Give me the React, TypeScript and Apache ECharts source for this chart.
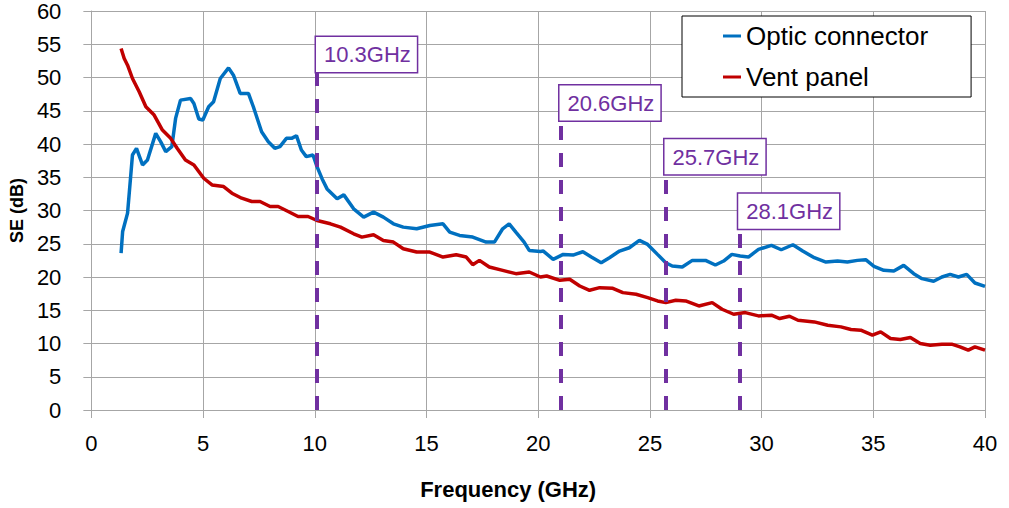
import React, { useEffect, useRef } from "react";
import * as echarts from "echarts";

const xTicks = { min: 0, max: 40, interval: 5 };
const yTicks = { min: 0, max: 60, interval: 5 };

const seriesNames = ["Optic connector", "Vent panel"];
const seriesColors = ["#0070C0", "#C00000"];

// [frequency GHz, SE dB]
const opticConnector: number[][] = [
  [1.33, 23.6], [1.4, 26.85], [1.62, 29.6], [1.84, 38.35], [2.02, 39.35], [2.29, 36.85], [2.51, 37.6],
  [2.88, 41.6], [3.1, 40.35], [3.33, 38.85], [3.6, 39.6], [3.77, 43.85], [3.99, 46.6], [4.44, 46.85],
  [4.59, 46.1], [4.81, 43.75], [4.99, 43.6], [5.25, 45.6], [5.47, 46.35], [5.77, 49.85], [6.14, 51.45],
  [6.36, 50.35], [6.66, 47.6], [7.03, 47.6], [7.25, 45.6], [7.62, 41.85], [7.92, 40.35], [8.21, 39.35],
  [8.44, 39.6], [8.73, 40.85], [8.96, 40.85], [9.18, 41.25], [9.4, 39.1], [9.62, 38.1], [9.92, 38.35],
  [10.1, 36.6], [10.33, 34.75], [10.55, 33.25], [11.0, 31.75], [11.3, 32.35], [11.74, 30.25], [12.19, 29],
  [12.63, 29.75], [13.07, 29], [13.52, 28], [13.96, 27.5], [14.56, 27.25], [15.15, 27.75], [15.74, 28],
  [16.04, 26.75], [16.48, 26.25], [17.07, 26], [17.67, 25.25], [18.04, 25.25], [18.41, 27.25], [18.7, 28],
  [19.0, 26.75], [19.37, 25.25], [19.6, 24], [20.1, 23.85], [20.23, 23.9], [20.67, 22.65], [21.12, 23.4],
  [21.56, 23.3], [22.0, 23.8], [22.38, 23], [22.82, 22.15], [23.19, 22.9], [23.64, 23.9], [24.08, 24.4],
  [24.53, 25.5], [24.9, 24.9], [25.34, 23.4], [25.71, 22.15], [26.0, 21.65], [26.45, 21.5], [26.9, 22.5],
  [27.49, 22.5], [27.93, 21.8], [28.3, 22.4], [28.67, 23.4], [29.04, 23.15], [29.41, 23], [29.86, 24.15],
  [30.44, 24.75], [30.88, 24.1], [31.4, 24.85], [31.84, 23.9], [32.36, 22.9], [32.88, 22.25], [33.4, 22.4],
  [33.84, 22.25], [34.29, 22.5], [34.66, 22.6], [35.03, 21.6], [35.47, 21], [35.92, 20.9], [36.36, 21.75],
  [36.81, 20.5], [37.18, 19.75], [37.7, 19.35], [38.07, 20], [38.44, 20.4], [38.81, 20], [39.18, 20.4],
  [39.55, 19.1], [40, 18.6],
];

const ventPanel: number[][] = [
  [1.33, 54.35], [1.47, 52.85], [1.62, 51.85], [1.84, 49.85], [2.14, 47.85], [2.44, 45.6], [2.81, 44.35],
  [3.18, 42.1], [3.55, 40.85], [3.84, 39.35], [4.21, 37.6], [4.59, 36.85], [5.03, 34.85], [5.4, 33.85],
  [5.92, 33.6], [6.29, 32.6], [6.73, 31.85], [7.18, 31.35], [7.55, 31.35], [8.0, 30.6], [8.36, 30.6],
  [8.81, 29.85], [9.25, 29.1], [9.7, 29.1], [10.1, 28.5], [10.7, 28], [11.15, 27.5], [11.74, 26.5],
  [12.11, 26], [12.63, 26.35], [13.07, 25.5], [13.52, 25.25], [13.96, 24.25], [14.56, 23.75], [15.15, 23.75],
  [15.74, 23], [16.33, 23.35], [16.78, 23], [17.07, 21.85], [17.37, 22.5], [17.81, 21.5], [18.41, 21],
  [19.0, 20.5], [19.6, 20.75], [20.1, 20], [20.38, 20.15], [20.97, 19.5], [21.41, 19.65], [21.86, 18.65],
  [22.3, 18], [22.75, 18.4], [23.34, 18.3], [23.79, 17.65], [24.38, 17.4], [24.9, 16.9], [25.34, 16.4],
  [25.71, 16.15], [26.16, 16.5], [26.6, 16.4], [27.19, 15.65], [27.79, 16.15], [28.23, 15.15], [28.75, 14.4],
  [29.27, 14.65], [29.86, 14.15], [30.44, 14.25], [30.81, 13.75], [31.25, 14.1], [31.63, 13.5], [32.36, 13.25],
  [32.96, 12.75], [33.55, 12.5], [34.0, 12.1], [34.44, 12], [34.96, 11.25], [35.33, 11.75], [35.77, 10.75],
  [36.21, 10.6], [36.66, 10.9], [37.1, 10], [37.55, 9.75], [38.07, 9.9], [38.51, 9.9], [38.88, 9.5],
  [39.25, 9], [39.55, 9.5], [40, 9],
];

const markerFreqs = [10.1, 21.0, 25.7, 29.0];
const markerTops = [56.1, 48.8, 40.7, 32.5];
const markerLabels = ["10.3GHz", "20.6GHz", "25.7GHz", "28.1GHz"];
const markerColor = "#7030A0";

const FONT = "'Liberation Sans', Arial, sans-serif";

export default function App() {
  const ref = useRef<HTMLDivElement>(null);

  useEffect(() => {
    if (!ref.current) return;
    const chart = echarts.init(ref.current, undefined, { renderer: "svg" });
    const gridColor = "#a6a6a6";

    const lineSeries = [opticConnector, ventPanel].map((d, i) => ({
      name: seriesNames[i],
      type: "line",
      data: d,
      showSymbol: false,
      symbol: "none",
      lineStyle: { width: 3.5, color: seriesColors[i] },
      itemStyle: { color: seriesColors[i] },
      z: 3,
    }));

    const markerSeries = {
      name: "markers",
      type: "line",
      data: [],
      z: 5,
      silent: true,
      markLine: {
        silent: true,
        symbol: ["none", "none"],
        animation: false,
        label: { show: false },
        lineStyle: { color: markerColor, width: 4, type: [14, 13] },
        data: markerFreqs.map((f, i) => [{ coord: [f, 0] }, { coord: [f, markerTops[i]] }]),
      },
      markPoint: {
        silent: true,
        animation: false,
        symbol: "rect",
        symbolSize: 0.01,
        data: markerFreqs.map((f, i) => ({
          coord: [f, markerTops[i]],
          label: {
            show: true,
            formatter: markerLabels[i],
            position: [-1, 0],
            align: "left",
            verticalAlign: "top",
            color: markerColor,
            fontFamily: FONT,
            fontSize: 22,
            lineHeight: 28,
            backgroundColor: "#fff",
            borderColor: markerColor,
            borderWidth: 1.5,
            padding: [4, 6, 3, 8],
          },
        })),
      },
    };

    chart.setOption({
      animation: false,
      backgroundColor: "#fff",
      grid: { left: 85, right: 24, top: 9, bottom: 98, containLabel: false },
      legend: {
        data: seriesNames,
        orient: "vertical",
        left: 682,
        top: 16,
        icon: "rect",
        itemWidth: 18,
        itemHeight: 3,
        itemGap: 15,
        padding: [7, 43, 7, 41],
        backgroundColor: "#fff",
        borderColor: "#000",
        borderWidth: 1,
        textStyle: { fontFamily: FONT, fontSize: 26, lineHeight: 26, color: "#000" },
        z: 10,
      },
      xAxis: {
        type: "value",
        min: xTicks.min,
        max: xTicks.max,
        interval: xTicks.interval,
        name: "Frequency (GHz)",
        nameLocation: "middle",
        nameGap: 68,
        nameTextStyle: {
          fontFamily: FONT,
          fontSize: 22,
          fontWeight: "bold",
          color: "#000",
          padding: [0, 60, 0, 0],
        },
        axisLine: { show: true, lineStyle: { color: gridColor, width: 1 } },
        axisTick: { show: true, length: 8, lineStyle: { color: gridColor } },
        axisLabel: { margin: 22, fontFamily: FONT, fontSize: 22, color: "#000" },
        splitLine: { show: true, lineStyle: { color: gridColor, width: 1 } },
      },
      yAxis: {
        type: "value",
        min: yTicks.min,
        max: yTicks.max,
        interval: yTicks.interval,
        name: "SE (dB)",
        nameLocation: "middle",
        nameGap: 64,
        nameTextStyle: { fontFamily: FONT, fontSize: 18, fontWeight: "bold", color: "#000" },
        axisLine: { show: true, lineStyle: { color: gridColor, width: 1 } },
        axisTick: { show: true, length: 8, lineStyle: { color: gridColor } },
        axisLabel: { margin: 30, fontFamily: FONT, fontSize: 22, color: "#000" },
        splitLine: { show: true, lineStyle: { color: gridColor, width: 1 } },
      },
      series: [...lineSeries, markerSeries],
    });

    return () => chart.dispose();
  }, []);

  return (
    <div
      ref={ref}
      style={{ position: "fixed", left: 0, top: 0, width: 1009, height: 508, background: "#fff" }}
    />
  );
}
